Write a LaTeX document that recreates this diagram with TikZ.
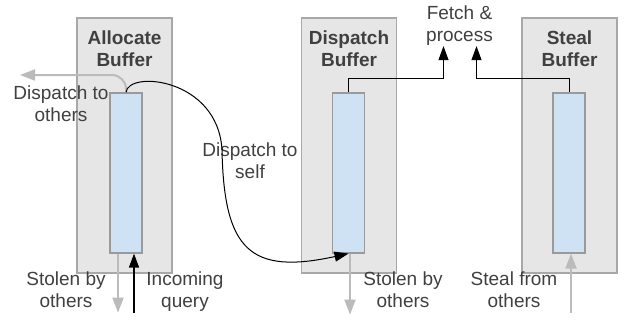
\documentclass[tikz,border=0pt]{standalone}
\usepackage{fontspec}
\setmainfont{Liberation Sans}
\usetikzlibrary{arrows.meta, calc, positioning}
\definecolor{boxgray}{HTML}{E6E6E6}
\definecolor{edgegray}{HTML}{A8A8A8}
\definecolor{qblue}{HTML}{CFE2F3}
\definecolor{qedge}{HTML}{9A9A9A}
\definecolor{textgray}{HTML}{404040}
\definecolor{arrowgray}{HTML}{BBBBBB}
\tikzstyle{buffer} = [rectangle, draw=edgegray, line width=1.5pt, fill=boxgray, minimum width=95pt, minimum height=255pt]
\tikzstyle{queue} = [rectangle, draw=qedge, line width=1.2pt, fill=qblue, minimum width=32pt, minimum height=160pt]
\tikzstyle{title} = [font=\fontsize{19}{22}\selectfont\bfseries, text=textgray, align=center, inner sep=0pt]
\tikzstyle{note} = [font=\fontsize{19}{22}\selectfont, text=textgray, align=center, inner sep=0pt, anchor=north]
\tikzstyle{arrow} = [line width=1pt, -{Triangle[length=14pt,width=10pt]}]
\tikzstyle{grayarrow} = [line width=2pt, draw=arrowgray, -{Triangle[length=15pt,width=11pt]}]

\begin{document}
\begin{tikzpicture}[x=1pt, y=-1pt]
	\useasboundingbox (0,0) rectangle (626,321);
	% the three buffers
	\node (alloc) [buffer] at (124.5,145.5) {};
	\node (disp) [buffer] at (349,145.5) {};
	\node (steal) [buffer] at (569.5,145.5) {};
	\node (allocq) [queue] at (126,173) {};
	\node (dispq) [queue] at (348.5,173) {};
	\node (stealq) [queue] at (569,173) {};
	\node (allocT) [title, below=13pt of alloc.north] {Allocate\\Buffer};
	\node (dispT) [title, below=13pt of disp.north] {Dispatch\\Buffer};
	\node (stealT) [title, below=13pt of steal.north] {Steal\\Buffer};

	% labels
	\node (fetch) [note] at (459.5,6) {Fetch \&\\process};
	\node (others) [note] at (61,86) {Dispatch to\\others};
	\node (self) [note] at (250,143) {Dispatch to\\self};
	\node (stolenA) [note] at (66,272) {Stolen by\\others};
	\node (query) [note] at (185,272) {Incoming\\query};
	\node (stolenD) [note] at (403,272) {Stolen by\\others};
	\node (stealO) [note] at (514,272) {Steal from\\others};

	\coordinate (outL) at (20,75);
	\coordinate (inq) at (134,313);
	\coordinate (stealin) at (571,313);

	% connectors
	\draw [grayarrow, rounded corners=14pt] (allocq.north) |- (outL);
	\draw [arrow] (allocq.north) .. controls (128,70) and (218,78) .. (222,150)
		.. controls (224,250) and (250,275) .. (dispq.south);
	\draw [arrow] (dispq.north) -- ++(0,-14) -| ([xshift=-16pt]fetch.south);
	\draw [arrow] (stealq.north) -- ++(0,-14) -| ([xshift=17pt]fetch.south);
	\draw [grayarrow] ([xshift=-8pt]allocq.south) -- ++(0,59);
	\draw [arrow, line width=1.5pt] (inq) -- ([xshift=8pt]allocq.south);
	\draw [grayarrow] ([xshift=1.5pt]dispq.south) -- ++(0,61);
	\draw [grayarrow] (stealin) -- ([xshift=2pt]stealq.south);
\end{tikzpicture}
\end{document}
